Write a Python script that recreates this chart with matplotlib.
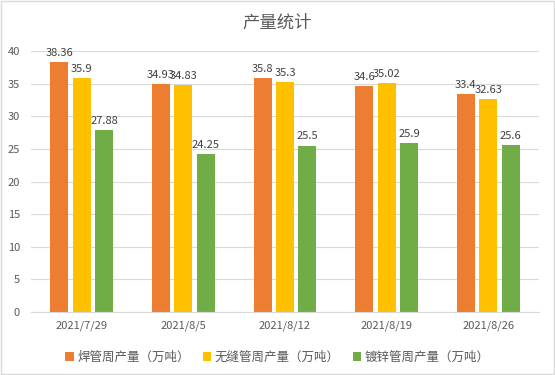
#!/usr/bin/env python3

import numpy as np
import matplotlib.pyplot as plt

plt.rcParams['font.family'] = ['Noto Sans CJK SC', 'DejaVu Sans']

# weekly output data
dates = ['2021/7/29', '2021/8/5', '2021/8/12', '2021/8/19', '2021/8/26']
weld = [38.36, 34.93, 35.8, 34.6, 33.4]
seamless = [35.9, 34.83, 35.3, 35.02, 32.63]
galv = [27.88, 24.25, 25.5, 25.9, 25.6]
names = ['焊管周产量（万吨）', '无缝管周产量（万吨）', '镀锌管周产量（万吨）']
colors = ['#ED7D31', '#FFC000', '#70AD47']

fig = plt.figure(figsize=(5.55, 3.75), dpi=100)
ax = fig.add_axes([0.056, 0.168, 0.915, 0.696])

x = np.arange(len(dates))
w = 0.177
step = 0.221
for i, (vals, name, c) in enumerate(zip([weld, seamless, galv], names, colors)):
    bars = ax.bar(x + (i - 1) * step, vals, w, color=c, label=name, zorder=2)
    ax.bar_label(bars, labels=[f'{v:g}' for v in vals], padding=3,
                 fontsize=8, color='#404040')

ax.set_xlim(-0.5, len(dates) - 0.5)
ax.set_ylim(0, 40)
ax.set_yticks(range(0, 41, 5))
ax.set_xticks(x)
ax.set_xticklabels(dates)
ax.yaxis.grid(True, color='#D9D9D9', linewidth=0.8, zorder=0)
ax.tick_params(axis='both', length=0, labelsize=8, labelcolor='#595959')
ax.tick_params(axis='x', pad=6)
ax.tick_params(axis='y', pad=8)
for s in ['top', 'right', 'left']:
    ax.spines[s].set_visible(False)
ax.spines['bottom'].set_color('#D9D9D9')

fig.suptitle('产量统计', y=0.965, fontsize=12.5, color='#595959')
fig.legend(loc='lower center', bbox_to_anchor=(0.5, 0.0), ncol=3, frameon=False,
           fontsize=9, handlelength=0.7, handleheight=0.7, handletextpad=0.3,
           columnspacing=1.0, labelcolor='#595959')

# light border around the figure
fig.patches.append(plt.Rectangle((0.002, 0.002), 0.996, 0.995, transform=fig.transFigure,
                                 fill=False, edgecolor='#D9D9D9', linewidth=1))

fig.savefig('out.png', dpi=100)
